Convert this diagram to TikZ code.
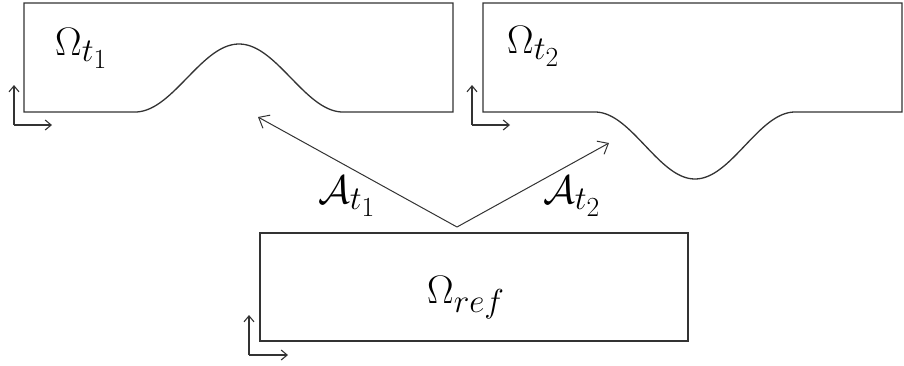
\documentclass[tikz,border=0pt]{standalone}
\usepackage{graphicx}
\usepackage{amsmath}
\usetikzlibrary{arrows.meta}
\newcommand{\bigsym}[1]{\scalebox{1.6}{\Huge$#1$}}
\begin{document}
\begin{tikzpicture}[x=1pt,y=-1pt,
  regionline/.style={line width=1.3pt,draw=black!80},
  axisarrow/.style={line width=1.1pt,draw=black!80,-{Straight Barb[length=6pt,width=10pt]}},
  maparrow/.style={line width=1pt,draw=black!80,-{Straight Barb[length=9pt,width=15pt]}},
  lbl/.style={inner sep=0pt}]
\useasboundingbox (0,0) rectangle (904,365);
% left region
\draw[regionline] (24,112) -- (135,112)
  -- plot[domain=135:343,samples=80] (\x,{112-34*(1-cos((\x-135)/208*360))})
  -- (453,112) -- (453,3) -- (24,3) -- cycle;
% right region
\draw[regionline] (483,112) -- (595,112)
  -- plot[domain=595:795,samples=80] (\x,{112+33.5*(1-cos((\x-595)/200*360))})
  -- (902,112) -- (902,3) -- (483,3) -- cycle;
% reference region
\draw[regionline] (260,233) rectangle (688,341);
% axes
\coordinate (o1) at (14,125); \coordinate (y1) at (14,85); \coordinate (x1) at (52,125);
\draw[axisarrow] (o1) -- (y1); \draw[axisarrow] (o1) -- (x1);
\coordinate (o2) at (472,125); \coordinate (y2) at (472,85); \coordinate (x2) at (510,125);
\draw[axisarrow] (o2) -- (y2); \draw[axisarrow] (o2) -- (x2);
\coordinate (o3) at (249,355); \coordinate (y3) at (249,315); \coordinate (x3) at (288,355);
\draw[axisarrow] (o3) -- (y3); \draw[axisarrow] (o3) -- (x3);
% maps
\coordinate (apex) at (457,227);
\coordinate (t1) at (258,117);
\coordinate (t2) at (609,143);
\draw[maparrow] (apex) -- (t1);
\draw[maparrow] (apex) -- (t2);
% labels
\node[lbl,anchor=base west] (om1) at (55,55) {\bigsym{\Omega_{t_1}}};
\node[lbl,anchor=base west] (om2) at (507,53) {\bigsym{\Omega_{t_2}}};
\node[lbl,anchor=base west] (omr) at (427,303) {\bigsym{\Omega_{ref}}};
\node[lbl,anchor=base west] (a1) at (318,203) {\bigsym{\mathcal{A}_{t_1}}};
\node[lbl,anchor=base west] (a2) at (543,203) {\bigsym{\mathcal{A}_{t_2}}};
\end{tikzpicture}
\end{document}
